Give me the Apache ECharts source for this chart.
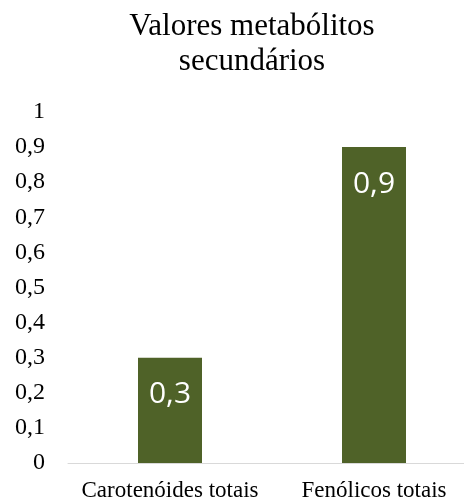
<!DOCTYPE html>
<html>
<head>
<meta charset="utf-8">
<script src="https://cdn.jsdelivr.net/npm/echarts@6/dist/echarts.min.js"></script>
<style>
  html, body { margin: 0; padding: 0; background: #ffffff; }
  #chart { width: 464px; height: 499px; }
</style>
</head>
<body>
<div id="chart"></div>
<script>
// Secondary metabolite values
const categories = ['Carotenóides totais', 'Fenólicos totais'];
const values = [0.3, 0.9];
const titleText = 'Valores metabólitos\nsecundários';

const comma = v => String(v).replace('.', ',');

const chart = echarts.init(document.getElementById('chart'), null, { renderer: 'canvas' });
chart.setOption({
  animation: false,
  backgroundColor: '#ffffff',
  graphic: [{
    type: 'text',
    x: 252,
    y: 9,
    style: {
      text: titleText,
      align: 'center',
      verticalAlign: 'top',
      fontFamily: 'Liberation Serif',
      fontSize: 31,
      lineHeight: 35,
      fill: '#000000'
    }
  }],
  grid: { left: 68, width: 408, top: 112, bottom: 36, outerBoundsMode: 'none', containLabel: false },
  xAxis: {
    type: 'category',
    data: categories,
    axisLine: { lineStyle: { color: '#d9d9d9', width: 1 } },
    axisTick: { show: false },
    axisLabel: {
      interval: 0,
      margin: 16,
      fontFamily: 'Liberation Serif',
      fontSize: 23,
      color: '#000000'
    }
  },
  yAxis: {
    type: 'value',
    min: 0,
    max: 1,
    interval: 0.1,
    axisLine: { show: false },
    axisTick: { show: false },
    splitLine: { show: false },
    axisLabel: {
      margin: 23,
      fontFamily: 'Liberation Serif',
      fontSize: 24,
      color: '#000000',
      formatter: v => comma(Math.round(v * 10) / 10)
    }
  },
  series: [{
    type: 'bar',
    data: values,
    barWidth: 64,
    itemStyle: { color: '#4f6228' },
    label: {
      show: true,
      position: 'insideTop',
      distance: 22,
      fontFamily: 'Open Sans',
      fontSize: 30,
      color: '#ffffff',
      formatter: p => comma(p.value)
    }
  }]
});
</script>
</body>
</html>
